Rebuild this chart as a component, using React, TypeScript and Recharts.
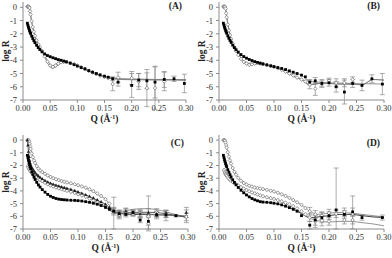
import React from "react";
import { ComposedChart, Line, Scatter, XAxis, YAxis, ErrorBar } from "recharts";

type V = number | null;
type E = number | [number, number] | null;

// measured Q grid (Å^-1)
const Q = [0.008, 0.009, 0.010, 0.011, 0.012, 0.013, 0.014, 0.016, 0.018, 0.020, 0.022, 0.025, 0.028, 0.031, 0.035,
  0.040, 0.045, 0.050, 0.055, 0.060, 0.065, 0.070, 0.075, 0.080, 0.087, 0.094, 0.100, 0.107, 0.114, 0.121, 0.128,
  0.135, 0.142, 0.150, 0.157, 0.165, 0.175, 0.187, 0.200, 0.213, 0.228, 0.243, 0.260, 0.278, 0.297];
// fit grid
const QF = [0.008, 0.010, 0.012, 0.014, 0.017, 0.020, 0.025, 0.030, 0.035, 0.040, 0.045, 0.050, 0.055, 0.060, 0.065,
  0.070, 0.080, 0.090, 0.100, 0.120, 0.140, 0.150, 0.165, 0.180, 0.200, 0.220, 0.240, 0.260, 0.280, 0.300];
// Q points carrying error bars
const QE = [0.165, 0.175, 0.187, 0.200, 0.213, 0.228, 0.243, 0.260, 0.278, 0.297];

const xTicks = [0, 0.05, 0.1, 0.15, 0.2, 0.25, 0.3];
const yTicks = [-7, -6, -5, -4, -3, -2, -1, 0];

// panel A
const aBlack: V[] = [-1.2, -1.35, -1.5, -1.62, -1.75, -1.87, -1.98, -2.18, -2.36, -2.52, -2.67, -2.87, -3.04, -3.19, -3.36,
  -3.52, -3.64, -3.73, -3.81, -3.88, -3.95, -4.0, -4.06, -4.12, -4.22, -4.33, -4.43, -4.55, -4.65, -4.78, -4.9, -5.0, -5.1,
  -5.2, -5.28, -5.4, -5.65, null, -5.9, -5.5, -5.55, -5.65, -5.45, -5.4, -5.75];
const aGrey: V[] = [0.05, 0.05, 0.05, 0.02, -0.05, -0.3, -0.55, -1.05, -1.5, -1.85, -2.15, -2.5, -2.8, -3.0, -3.3,
  -3.7, -4.1, -4.4, -4.5, -4.4, -4.25, -4.15, -4.12, -4.13, -4.2, -4.3, -4.4, -4.52, -4.65, -4.8, -4.92, -5.05, -5.15,
  -5.25, -5.35, -5.8, -5.3, null, -5.35, -5.6, -6.1, -6.1, -5.6, null, null];
const aBlackErr: E[] = [0.15, 0.3, null, 0.9, 0.5, 0.6, 1.2, 0.6, 0.2, 0.7];
const aGreyErr: E[] = [0.5, 0.4, null, 0.5, 0.6, 1.4, 1.6, 0.7, null, null];
const aFit1 = [-1.2, -1.5, -1.75, -1.98, -2.27, -2.52, -2.87, -3.15, -3.36, -3.52, -3.64, -3.73, -3.81, -3.88, -3.95,
  -4.0, -4.12, -4.27, -4.43, -4.78, -5.1, -5.2, -5.38, -5.42, -5.43, -5.44, -5.45, -5.45, -5.46, -5.47];
const aFit2 = [0.05, 0.05, -0.05, -0.55, -1.3, -1.85, -2.5, -2.95, -3.3, -3.65, -4.0, -4.3, -4.4, -4.3, -4.2,
  -4.12, -4.13, -4.28, -4.4, -4.8, -5.12, -5.25, -5.35, -5.4, -5.42, -5.43, -5.45, -5.45, -5.46, -5.47];
const aFit3 = [0.05, 0.05, -0.05, -0.6, -1.35, -1.9, -2.55, -3.0, -3.35, -3.75, -4.2, -4.5, -4.6, -4.5, -4.35,
  -4.2, -4.15, -4.25, -4.4, -4.8, -5.12, -5.25, -5.4, -5.45, -5.47, -5.48, -5.5, -5.5, -5.5, -5.52];

// panel B
const bBlack: V[] = [-1.2, -1.35, -1.5, -1.62, -1.74, -1.85, -1.96, -2.16, -2.34, -2.5, -2.65, -2.86, -3.04, -3.2, -3.38,
  -3.57, -3.72, -3.84, -3.94, -4.02, -4.1, -4.16, -4.22, -4.28, -4.35, -4.42, -4.48, -4.55, -4.62, -4.7, -4.8, -4.9, -5.0,
  -5.12, -5.25, -5.65, -5.55, -5.75, -5.7, -6.0, -6.4, -5.75, -5.9, -5.4, -5.8];
const bGrey: V[] = [0.05, 0.05, 0.05, 0.03, -0.1, -0.45, -0.75, -1.3, -1.75, -2.1, -2.4, -2.75, -3.05, -3.3, -3.6,
  -3.9, -4.12, -4.25, -4.35, -4.3, -4.25, -4.22, -4.24, -4.28, -4.35, -4.42, -4.5, -4.6, -4.72, -4.85, -5.0, -5.15, -5.3,
  -5.45, -5.6, -5.85, -6.15, -5.75, -5.55, -5.7, -5.7, -5.45, null, null, null];
const bBlackErr: E[] = [0.2, 0.25, 0.2, 0.25, 0.4, 0.9, 0.3, 0.4, 0.3, 0.8];
const bGreyErr: E[] = [0.3, 0.5, 0.3, 0.2, 0.3, 0.3, 0.2, null, null, null];
const bFit1 = [-1.2, -1.5, -1.74, -1.96, -2.25, -2.5, -2.86, -3.15, -3.38, -3.57, -3.72, -3.84, -3.94, -4.02, -4.1,
  -4.16, -4.28, -4.4, -4.48, -4.7, -5.0, -5.12, -5.6, -5.65, -5.7, -5.72, -5.75, -5.77, -5.78, -5.8];
const bFit2 = [0.05, 0.05, -0.1, -0.75, -1.5, -2.1, -2.75, -3.2, -3.55, -3.85, -4.1, -4.25, -4.3, -4.3, -4.28,
  -4.27, -4.3, -4.4, -4.5, -4.85, -5.3, -5.45, -5.85, -5.75, -5.75, -5.8, -5.8, -5.85, -5.45, -5.5];
const bFit3 = [0.05, 0.05, -0.1, -0.7, -1.45, -2.05, -2.7, -3.15, -3.5, -3.8, -4.05, -4.18, -4.22, -4.22, -4.22,
  -4.24, -4.3, -4.4, -4.5, -4.85, -5.3, -5.45, -5.85, -5.75, -5.75, -5.8, -5.8, -5.85, -5.45, -5.5];

// panel C
const cTop: V[] = [0.0, 0.0, 0.0, -0.1, -0.3, -0.5, -0.7, -1.05, -1.35, -1.6, -1.8, -2.05, -2.25, -2.4, -2.52,
  -2.66, -2.79, -2.9, -3.0, -3.08, -3.15, -3.22, -3.28, -3.33, -3.4, -3.48, -3.55, -3.65, -3.75, -3.88, -4.02, -4.2, -4.4,
  -4.65, -5.0, -5.5, -5.8, -5.7, -5.75, -5.85, -6.0, -5.9, -5.95, null, -6.0];
const cTri: V[] = [0.0, -0.4, -0.9, -1.3, -1.6, -1.8, -1.95, -2.15, -2.3, -2.43, -2.55, -2.7, -2.82, -2.93, -3.05,
  -3.18, -3.3, -3.4, -3.48, -3.55, -3.62, -3.68, -3.74, -3.8, -3.88, -3.98, -4.08, -4.18, -4.3, -4.42, -4.55, -4.7, -4.85,
  -5.05, -5.3, -5.55, -5.75, -5.6, -5.7, -5.8, -5.7, -5.8, -5.75, null, -5.7];
const cBlack: V[] = [-1.2, -1.4, -1.6, -1.78, -1.95, -2.1, -2.25, -2.5, -2.72, -2.92, -3.1, -3.33, -3.53, -3.7, -3.9,
  -4.1, -4.28, -4.42, -4.52, -4.6, -4.65, -4.68, -4.7, -4.72, -4.74, -4.75, -4.77, -4.8, -4.85, -4.9, -4.97, -5.05, -5.15,
  -5.3, -5.45, -5.6, -5.8, -5.85, -5.7, -6.3, -6.4, -5.9, -5.9, -5.95, null];
const cLow: V[] = [null, -2.05, -2.15, -2.25, -2.33, -2.4, -2.47, -2.58, -2.68, -2.77, -2.85, -2.95, -3.05, -3.13, -3.23,
  -3.35, -3.47, -3.57, -3.65, -3.73, -3.8, -3.87, -3.93, -3.99, -4.07, -4.16, -4.25, -4.35, -4.47, -4.6, -4.75, -4.9, -5.05,
  -5.2, -5.38, -5.6, -5.9, -5.65, -5.8, -5.75, -6.55, -5.7, -5.8, null, -6.05];
const cTopErr: E[] = [[1.5, 1.0], 0.3, 0.2, 0.2, 0.3, [1.0, 1.6], 0.3, 0.4, null, 0.5];
const cTriErr: E[] = [0.2, 0.2, 0.2, 0.2, 0.2, 0.3, 0.2, 0.2, null, 0.4];
const cBlackErr: E[] = [0.2, 0.2, 0.2, 0.2, 0.2, 0.3, 0.2, 0.2, 0.1, null];
const cLowErr: E[] = [0.3, 0.3, 0.3, 0.2, 0.3, 0.6, 0.3, 0.3, null, 0.3];
const cFit1 = [0.0, 0.0, -0.3, -0.7, -1.2, -1.6, -2.05, -2.35, -2.52, -2.66, -2.79, -2.9, -3.0, -3.08, -3.15,
  -3.22, -3.33, -3.45, -3.55, -3.88, -4.4, -4.65, -5.55, -5.6, -5.45, -5.4, -5.45, -5.65, -5.9, -6.1];
const cFit2 = [0.0, -0.9, -1.6, -1.95, -2.22, -2.43, -2.7, -2.9, -3.05, -3.18, -3.3, -3.4, -3.48, -3.55, -3.62,
  -3.68, -3.8, -3.93, -4.08, -4.42, -4.85, -5.05, -5.6, -5.75, -5.7, -5.68, -5.7, -5.8, -5.95, -6.1];
const cFit3 = [-1.2, -1.6, -1.95, -2.25, -2.62, -2.92, -3.33, -3.65, -3.9, -4.1, -4.28, -4.42, -4.52, -4.6, -4.65,
  -4.68, -4.72, -4.75, -4.77, -4.9, -5.13, -5.3, -5.7, -5.8, -5.85, -5.85, -5.88, -5.9, -5.95, -6.0];
const cFit4 = [-2.0, -2.15, -2.33, -2.47, -2.63, -2.77, -2.95, -3.1, -3.23, -3.35, -3.47, -3.57, -3.65, -3.73, -3.8,
  -3.87, -3.99, -4.12, -4.25, -4.58, -5.0, -5.2, -5.65, -5.75, -5.75, -5.8, -5.85, -5.9, -5.95, -6.0];

// panel D
const dTop: V[] = [0.0, 0.0, 0.0, -0.05, -0.2, -0.4, -0.6, -0.95, -1.3, -1.6, -1.85, -2.2, -2.5, -2.72, -2.97,
  -3.2, -3.38, -3.5, -3.6, -3.67, -3.73, -3.78, -3.82, -3.86, -3.92, -3.99, -4.05, -4.15, -4.27, -4.4, -4.55, -4.72, -4.9,
  -5.1, -5.35, -5.6, -5.85, -5.95, -5.75, -5.8, -5.65, -5.8, null, null, null];
const dBlack: V[] = [-1.2, -1.38, -1.55, -1.7, -1.85, -1.98, -2.1, -2.33, -2.53, -2.72, -2.9, -3.13, -3.33, -3.52, -3.73,
  -3.95, -4.15, -4.32, -4.47, -4.6, -4.7, -4.78, -4.85, -4.88, -4.9, -4.93, -4.97, -5.02, -5.1, -5.2, -5.32, -5.45, -5.6,
  -5.95, null, -6.7, -6.3, -6.1, -5.95, -5.5, -5.85, -5.65, -6.1, null, -6.1];
const dLow: V[] = [null, -2.35, -2.5, -2.6, -2.68, -2.75, -2.82, -2.93, -3.03, -3.12, -3.2, -3.3, -3.4, -3.48, -3.58,
  -3.7, -3.82, -3.93, -4.03, -4.12, -4.2, -4.28, -4.35, -4.42, -4.5, -4.57, -4.63, -4.72, -4.82, -4.93, -5.05, -5.2, -5.38,
  -5.6, -5.85, -6.1, -6.4, -6.35, -6.4, null, -6.3, -6.3, null, null, null];
const dTopErr: E[] = [0.3, 0.3, 0.3, 0.3, 0.3, 0.3, [1.2, 1.4], null, null, null];
const dBlackErr: E[] = [0.3, 0.4, 0.4, 0.3, [1.5, 3.3], 0.3, 0.3, 0.2, null, 0.2];
const dLowErr: E[] = [0.3, 0.5, 0.4, 0.3, null, 0.3, 0.3, null, null, null];
const dFit1 = [0.0, 0.0, -0.2, -0.6, -1.12, -1.6, -2.2, -2.65, -2.97, -3.2, -3.38, -3.5, -3.6, -3.67, -3.73,
  -3.78, -3.86, -3.95, -4.05, -4.38, -4.85, -5.1, -5.6, -5.85, -5.75, -5.7, -5.75, -5.85, -5.95, -6.05];
const dFit2 = [-1.2, -1.55, -1.85, -2.1, -2.43, -2.72, -3.13, -3.46, -3.73, -3.95, -4.15, -4.32, -4.47, -4.6, -4.7,
  -4.78, -4.88, -4.92, -4.97, -5.2, -5.55, -5.8, -6.1, -6.05, -5.95, -5.85, -5.85, -5.95, -6.05, -6.1];
const dFit3 = [-2.3, -2.5, -2.68, -2.82, -2.98, -3.12, -3.3, -3.46, -3.58, -3.7, -3.82, -3.93, -4.03, -4.12, -4.2,
  -4.28, -4.42, -4.55, -4.63, -4.98, -5.45, -5.7, -6.15, -6.35, -6.45, -6.4, -6.4, -6.5, -6.6, -6.75];

const FONT = "Liberation Serif";
const GREY = "#7a7a7a";
const AXIS = "#8c8c8c";

const pts = (xs: number[], ys: V[]) =>
  xs.map((q, i) => ({ q, r: ys[i] })).filter((p) => p.r !== null);

const errPts = (ys: V[], errs: E[]) =>
  QE.map((q, i) => ({ q, r: ys[Q.indexOf(q)], err: errs[i] })).filter((p) => p.r != null && p.err != null);

const square = (p: any) => <rect x={p.cx - 1.4} y={p.cy - 1.4} width={2.8} height={2.8} fill="#000" />;
const diamond = (p: any) => (
  <path d={`M${p.cx},${p.cy - 1.9}L${p.cx + 1.7},${p.cy}L${p.cx},${p.cy + 1.9}L${p.cx - 1.7},${p.cy}Z`}
    fill="#fff" stroke="#6e6e6e" strokeWidth={0.7} />
);
const triangle = (p: any) => (
  <path d={`M${p.cx},${p.cy - 1.8}L${p.cx + 1.7},${p.cy + 1.3}L${p.cx - 1.7},${p.cy + 1.3}Z`} fill="#222" />
);
const none = () => <g />;

const XTick = (p: any) => (
  <text x={p.x} y={p.y + 6} textAnchor="middle" fontFamily={FONT} fontSize={8.5} fill="#333">
    {Number(p.payload.value).toFixed(2)}
  </text>
);
const YTick = (p: any) => (
  <text x={p.x - 1} y={p.y + 3} textAnchor="end" fontFamily={FONT} fontSize={8.5} fill="#333">
    {p.payload.value}
  </text>
);

const XLabel = (props: any) => {
  const vb = props.viewBox;
  return (
    <text x={vb.x + vb.width / 2} y={vb.y + 22} textAnchor="middle" fontFamily={FONT} fontWeight="bold" fontSize={9.5} fill="#222">
      <tspan>Q (Å</tspan>
      <tspan dy={-3} fontSize={6}>-1</tspan>
      <tspan dy={3}>)</tspan>
    </text>
  );
};

const YLabel = (props: any) => {
  const vb = props.viewBox;
  const cy = vb.y + vb.height / 2;
  return (
    <text x={6} y={cy} transform={`rotate(-90 6 ${cy})`} textAnchor="middle" dominantBaseline="central"
      fontFamily={FONT} fontWeight="bold" fontSize={9.5} fill="#222">
      log R
    </text>
  );
};

type Series = { ys: V[]; errs: E[]; shape: any };
type Fit = { ys: number[]; color: string };

function Panel({ name, left, top, mTop, mRight, series, fits }: {
  name: string; left: number; top: number; mTop: number; mRight: number; series: Series[]; fits: Fit[];
}) {
  return (
    <div style={{ position: "absolute", left, top, width: 196, height: 129 }}>
      <ComposedChart width={196} height={129} margin={{ top: mTop, right: mRight, bottom: 0, left: 0 }}>
        <XAxis type="number" dataKey="q" domain={[0, 0.3]} ticks={xTicks} interval={0} allowDataOverflow
          tick={<XTick />} tickSize={3} height={29} stroke={AXIS} label={<XLabel />} />
        <YAxis type="number" dataKey="r" domain={[-7, 0.4]} ticks={yTicks} interval={0} allowDataOverflow
          tick={<YTick />} tickSize={3} width={23} stroke={AXIS} label={<YLabel />} />
        {series.map((s, i) => (
          <Scatter key={"e" + i} data={errPts(s.ys, s.errs)} dataKey="r" shape={none} isAnimationActive={false}>
            <ErrorBar dataKey="err" direction="y" width={2.5} stroke="#888" strokeWidth={0.7} />
          </Scatter>
        ))}
        {series.map((s, i) => (
          <Scatter key={"s" + i} data={pts(Q, s.ys)} dataKey="r" shape={s.shape} isAnimationActive={false} />
        ))}
        {fits.map((f, i) => (
          <Line key={"f" + i} data={pts(QF, f.ys)} dataKey="r" type="monotone" dot={false}
            stroke={f.color} strokeWidth={0.8} isAnimationActive={false} />
        ))}
      </ComposedChart>
      <div style={{ position: "absolute", right: mRight + 4, top: mTop === 2 ? 1 : 9, fontFamily: FONT,
        fontWeight: "bold", fontSize: 9.5, lineHeight: "10px", color: "#222" }}>{name}</div>
    </div>
  );
}

export default function App() {
  return (
    <div style={{ position: "absolute", left: 0, top: 0, width: 392, height: 258, background: "#fff", overflow: "hidden" }}>
      <Panel name="(A)" left={0} top={0} mTop={2} mRight={10}
        series={[
          { ys: aGrey, errs: aGreyErr, shape: diamond },
          { ys: aBlack, errs: aBlackErr, shape: square },
        ]}
        fits={[
          { ys: aFit1, color: GREY },
          { ys: aFit2, color: GREY },
          { ys: aFit3, color: GREY },
        ]} />
      <Panel name="(B)" left={196} top={0} mTop={2} mRight={8}
        series={[
          { ys: bGrey, errs: bGreyErr, shape: diamond },
          { ys: bBlack, errs: bBlackErr, shape: square },
        ]}
        fits={[
          { ys: bFit1, color: GREY },
          { ys: bFit2, color: GREY },
          { ys: bFit3, color: GREY },
        ]} />
      <Panel name="(C)" left={0} top={129} mTop={6} mRight={8}
        series={[
          { ys: cTop, errs: cTopErr, shape: diamond },
          { ys: cLow, errs: cLowErr, shape: diamond },
          { ys: cTri, errs: cTriErr, shape: triangle },
          { ys: cBlack, errs: cBlackErr, shape: square },
        ]}
        fits={[
          { ys: cFit1, color: GREY },
          { ys: cFit2, color: "#333" },
          { ys: cFit3, color: "#111" },
          { ys: cFit4, color: GREY },
        ]} />
      <Panel name="(D)" left={196} top={129} mTop={6} mRight={8}
        series={[
          { ys: dTop, errs: dTopErr, shape: diamond },
          { ys: dLow, errs: dLowErr, shape: diamond },
          { ys: dBlack, errs: dBlackErr, shape: square },
        ]}
        fits={[
          { ys: dFit1, color: GREY },
          { ys: dFit2, color: "#111" },
          { ys: dFit3, color: GREY },
        ]} />
    </div>
  );
}
